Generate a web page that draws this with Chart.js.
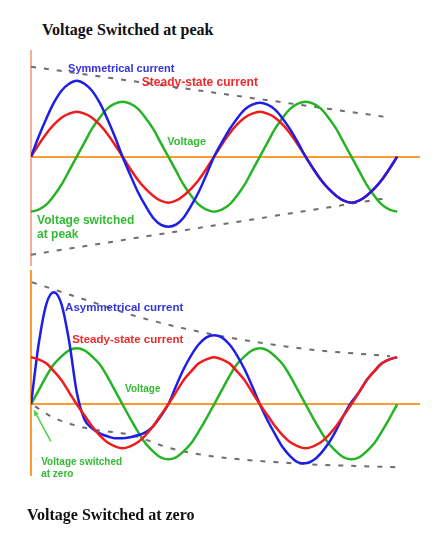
<!DOCTYPE html>
<html>
<head>
<meta charset="utf-8">
<script src="https://cdn.jsdelivr.net/npm/chart.js@4"></script>
<style>
html, body { margin: 0; padding: 0; background: #fff; }
#wrap { position: relative; width: 447px; height: 547px; overflow: hidden; }
canvas { position: absolute; left: 0; }
.title { position: absolute; font: bold 16px "Liberation Serif", "Times New Roman", serif; color: #111; white-space: nowrap; }
</style>
</head>
<body>
<div id="wrap">
  <div class="title" style="left:42px; top:21px;">Voltage Switched at peak</div>
  <canvas id="peak" width="447" height="270" style="top:0"></canvas>
  <canvas id="zero" width="447" height="277" style="top:270px"></canvas>
  <div class="title" style="left:27px; top:506px;">Voltage Switched at zero</div>
</div>
<script>
// time axis in electrical degrees (360 = one cycle)
const degrees = [0,15,30,45,60,75,90,105,120,135,150,165,180,195,210,225,240,255,270,285,300,315,330,345,360,
  375,390,405,420,435,450,465,480,495,510,525,540,555,570,585,600,615,630,645,660,675,690,705,720];

// --- voltage switched at peak ---
const peakSymmetrical = [0,20,38,54,66,73,76,73,66,54,38,20,0,-18,-35,-49,-61,-68,-70,-68,-61,-49,-35,-18,0,
  14,27,38,47,52,54,52,47,38,27,14,0,-12,-23,-32,-39,-44,-46,-44,-39,-32,-23,-12,0];
const peakSteady = [0,12,23,32,39,43,45,43,39,32,23,12,0,-12,-23,-32,-39,-44,-46,-44,-39,-32,-23,-12,0,
  12,23,32,39,43,45,43,39,32,23,12,0,-12,-23,-32,-39,-44,-46,-44,-39,-32,-23,-12,0];
const peakVoltage = [-55,-53,-48,-39,-28,-14,0,14,28,39,48,53,55,53,48,39,28,14,0,-14,-28,-39,-48,-53,-55,
  -53,-48,-39,-28,-14,0,14,28,39,48,53,55,53,48,39,28,14,0,-14,-28,-39,-48,-53,-55];
const peakUpperX = [0, 708];
const peakUpper = [90, 39];
const peakLowerX = [0, 704];
const peakLower = [-98, -41];

// --- voltage switched at zero ---
const zeroAsymmetrical = [0,60,100,112,100,63,12,-15,-24,-29,-32,-34,-34,-33,-31,-28,-22,-12,0,18,35,49,60,67,69,
  67,60,49,35,18,0,-16,-30,-43,-52,-58,-59,-56,-49,-39,-26,-11,2,12,24,33,41,45,47];
const zeroSteady = [47,45,41,33,24,12,0,-11,-22,-31,-38,-42,-44,-42,-38,-31,-22,-11,0,12,24,33,41,45,47,
  45,41,33,24,12,0,-11,-22,-31,-38,-42,-44,-42,-38,-31,-22,-11,0,12,24,33,41,45,47];
const zeroVoltage = [0,14,28,40,48,54,56,54,48,40,28,14,0,-14,-27,-39,-47,-53,-55,-53,-47,-39,-27,-14,0,
  14,28,40,48,54,56,54,48,40,28,14,0,-14,-27,-39,-47,-53,-55,-53,-47,-39,-27,-14,0];
const zeroUpperX = [2, 110, 214, 346, 529, 706];
const zeroUpper = [122, 104, 87, 71, 56, 48];
const zeroLowerX = [8, 43, 110, 200, 268, 330, 515, 720];
const zeroLower = [-2, -13, -24, -31, -43, -50, -59, -63];

const BLUE = '#1e1ee6', RED = '#ee1c1c', GREEN = '#26b426', ORANGE = '#ff9a2e', GREY = '#6e6e6e';

function pts(xs, ys) {
  return xs.map((x, i) => ({ x: x, y: ys[i] }));
}

function curve(ys, color) {
  return { data: pts(degrees, ys), borderColor: color, borderWidth: 2.5, pointRadius: 0,
    cubicInterpolationMode: 'monotone', fill: false };
}

function envelope(xs, ys) {
  return { data: pts(xs, ys), borderColor: GREY, borderWidth: 2, borderDash: [5, 8], pointRadius: 0,
    cubicInterpolationMode: 'monotone', fill: false };
}

function labelPlugin(labels, arrow) {
  return {
    id: 'curveLabels',
    afterDatasetsDraw(chart) {
      const ctx = chart.ctx, x = chart.scales.x, y = chart.scales.y;
      ctx.save();
      ctx.textAlign = 'left';
      ctx.textBaseline = 'middle';
      labels.forEach(l => {
        ctx.font = l.font;
        ctx.fillStyle = l.color;
        ctx.fillText(l.text, x.getPixelForValue(l.x), y.getPixelForValue(l.y));
      });
      if (arrow) {
        const x0 = x.getPixelForValue(arrow.from[0]), y0 = y.getPixelForValue(arrow.from[1]);
        const x1 = x.getPixelForValue(arrow.to[0]), y1 = y.getPixelForValue(arrow.to[1]);
        const a = Math.atan2(y1 - y0, x1 - x0);
        ctx.strokeStyle = ctx.fillStyle = '#4fcf4f';
        ctx.lineWidth = 1.5;
        ctx.beginPath();
        ctx.moveTo(x0, y0);
        ctx.lineTo(x1, y1);
        ctx.stroke();
        ctx.beginPath();
        ctx.moveTo(x1, y1);
        ctx.lineTo(x1 - 6 * Math.cos(a - 0.45), y1 - 6 * Math.sin(a - 0.45));
        ctx.lineTo(x1 - 6 * Math.cos(a + 0.45), y1 - 6 * Math.sin(a + 0.45));
        ctx.closePath();
        ctx.fill();
      }
      ctx.restore();
    }
  };
}

function makeChart(id, datasets, yMin, yMax, padding, vAxisColor, plugin) {
  return new Chart(document.getElementById(id), {
    type: 'line',
    data: { datasets: datasets },
    options: {
      responsive: false,
      animation: false,
      layout: { padding: padding },
      plugins: { legend: { display: false }, tooltip: { enabled: false } },
      scales: {
        x: { type: 'linear', min: 0, max: 763, position: { y: 0 },
          grid: { display: false }, ticks: { display: false },
          border: { color: ORANGE, width: 2 } },
        y: { type: 'linear', min: yMin, max: yMax, position: { x: 0 },
          grid: { display: false }, ticks: { display: false },
          border: { color: vAxisColor, width: 2 } }
      }
    },
    plugins: [plugin]
  });
}

makeChart('peak', [
  curve(peakSymmetrical, BLUE),
  curve(peakSteady, RED),
  curve(peakVoltage, GREEN),
  envelope(peakUpperX, peakUpper),
  envelope(peakLowerX, peakLower)
], -108.3, 105.7, { top: 51, bottom: 5, left: 31, right: 28 }, '#f6ae94',
labelPlugin([
  { text: 'Symmetrical current', x: 73, y: 88, color: '#3434e0', font: 'bold 11px "Liberation Sans", Arial, sans-serif' },
  { text: 'Steady-state current', x: 218, y: 74, color: '#ee2a2a', font: 'bold 12px "Liberation Sans", Arial, sans-serif' },
  { text: 'Voltage', x: 268, y: 15, color: '#34bb34', font: 'bold 11px "Liberation Sans", Arial, sans-serif' },
  { text: 'Voltage switched', x: 12, y: -64, color: '#34bb34', font: 'bold 12px "Liberation Sans", Arial, sans-serif' },
  { text: 'at peak', x: 12, y: -78, color: '#34bb34', font: 'bold 12px "Liberation Sans", Arial, sans-serif' }
]));

makeChart('zero', [
  curve(zeroSteady, RED),
  curve(zeroAsymmetrical, BLUE),
  curve(zeroVoltage, GREEN),
  envelope(zeroUpperX, zeroUpper),
  envelope(zeroLowerX, zeroLower)
], -70.7, 134.3, { top: 0, bottom: 72, left: 31, right: 28 }, ORANGE,
labelPlugin([
  { text: 'Asymmetrical current', x: 67, y: 96, color: '#3434e0', font: 'bold 11.5px "Liberation Sans", Arial, sans-serif' },
  { text: 'Steady-state current', x: 81, y: 64, color: '#ee2a2a', font: 'bold 11.5px "Liberation Sans", Arial, sans-serif' },
  { text: 'Voltage', x: 185, y: 15, color: '#34bb34', font: 'bold 10px "Liberation Sans", Arial, sans-serif' },
  { text: 'Voltage switched', x: 20, y: -58, color: '#34bb34', font: 'bold 10px "Liberation Sans", Arial, sans-serif' },
  { text: 'at zero', x: 20, y: -70, color: '#34bb34', font: 'bold 10px "Liberation Sans", Arial, sans-serif' }
], { from: [39, -37], to: [6, -6] }));
</script>
</body>
</html>
